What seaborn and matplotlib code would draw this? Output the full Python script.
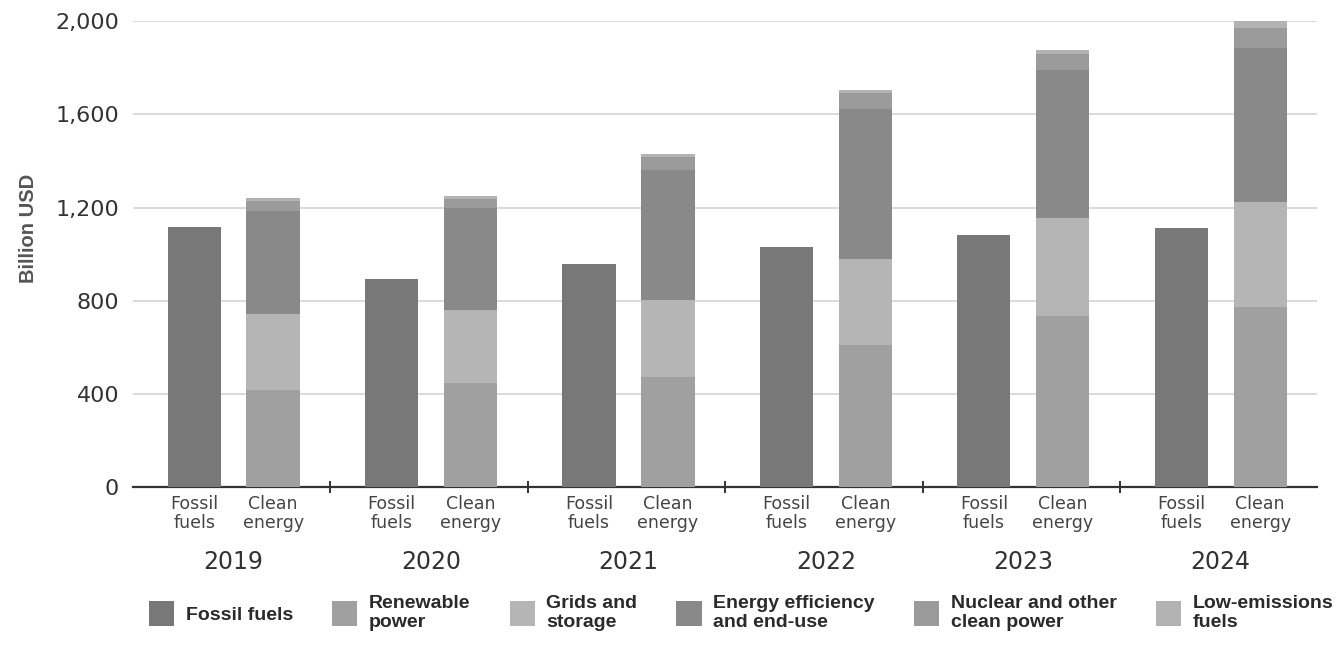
import seaborn as sns
import matplotlib.pyplot as plt
from matplotlib.patches import Patch
from matplotlib.ticker import FuncFormatter, FixedLocator

years = ['2019', '2020', '2021', '2022', '2023', '2024']
fossil = [1115, 895, 957, 1030, 1081, 1112]
renewable = [415, 446, 472, 609, 734, 773]
grids = [330, 314, 331, 369, 421, 450]
efficiency = [442, 437, 557, 644, 635, 661]
nuclear = [40, 40, 55, 70, 70, 86]
low_emissions = [12, 12, 14, 12, 15, 30]

clean_parts = [renewable, grids, efficiency, nuclear, low_emissions]
legend_labels = ['Fossil fuels', 'Renewable\npower', 'Grids and\nstorage',
                 'Energy efficiency\nand end-use', 'Nuclear and other\nclean power',
                 'Low-emissions\nfuels']
colors = ['#787878', '#a0a0a0', '#b5b5b5', '#898989', '#9b9b9b', '#b3b3b3']

sns.set_theme(style='white')
plt.rcParams['font.family'] = ['Liberation Sans', 'DejaVu Sans']

fig = plt.figure(figsize=(13.43, 6.45), dpi=100)
ax = fig.add_axes([0.099, 0.245, 0.882, 0.722])

w = 0.27
xf = [i - 0.19 for i in range(len(years))]
xc = [i + 0.21 for i in range(len(years))]

ax.bar(xf, fossil, width=w, color=colors[0], linewidth=0, zorder=3)
bottom = [0] * len(years)
for part, col in zip(clean_parts, colors[1:]):
    ax.bar(xc, part, width=w, bottom=bottom, color=col, linewidth=0, zorder=3)
    bottom = [b + p for b, p in zip(bottom, part)]

ax.set_xlim(-0.5, 5.5)
ax.set_ylim(0, 2000)
ax.set_yticks(range(0, 2001, 400))
ax.yaxis.set_major_formatter(FuncFormatter(lambda v, p: f'{int(v):,}'))
ax.grid(axis='y', color='#d4d4d4', linewidth=1.2, zorder=0)
ax.tick_params(axis='y', length=0, pad=10, labelsize=16, labelcolor='#333333')
for t in ax.get_yticklabels():
    t.set_family('DejaVu Sans')
ax.set_ylabel('Billion USD', fontsize=14.5, fontweight='bold', color='#555555')
ax.yaxis.set_label_coords(-0.08, 0.556)

xticks = []
xlabels = []
for a, b in zip(xf, xc):
    xticks += [a, b]
    xlabels += ['Fossil\nfuels', 'Clean\nenergy']
ax.set_xticks(xticks)
ax.set_xticklabels(xlabels, fontsize=12.5, color='#444444', linespacing=1.05,
                   family=['Liberation Sans Narrow', 'DejaVu Sans'])
ax.tick_params(axis='x', which='major', length=0, pad=6)
ax.xaxis.set_minor_locator(FixedLocator([i + 0.5 for i in range(len(years) - 1)]))
ax.tick_params(axis='x', which='minor', bottom=True, length=8, width=1.4,
               color='#333333', direction='inout')

for i, yr in enumerate(years):
    ax.text(i + 0.01, -0.162, yr, transform=ax.get_xaxis_transform(), ha='center',
            va='center', fontsize=17, color='#333333', family='DejaVu Sans')

sns.despine(ax=ax, left=True)
ax.spines['bottom'].set_color('#333333')
ax.spines['bottom'].set_linewidth(1.6)

handles = [Patch(facecolor=c, linewidth=0) for c in colors]
fig.legend(handles, legend_labels, loc='upper left', bbox_to_anchor=(0.098, 0.105),
           ncol=6, frameon=False, handlelength=1.3, handleheight=1.6,
           handletextpad=0.6, columnspacing=2.0,
           prop={'weight': 'bold', 'size': 14})
for t in fig.legends[0].get_texts():
    t.set_color('#2a2a2a')

fig.savefig('out.png', dpi=100, facecolor='white')
